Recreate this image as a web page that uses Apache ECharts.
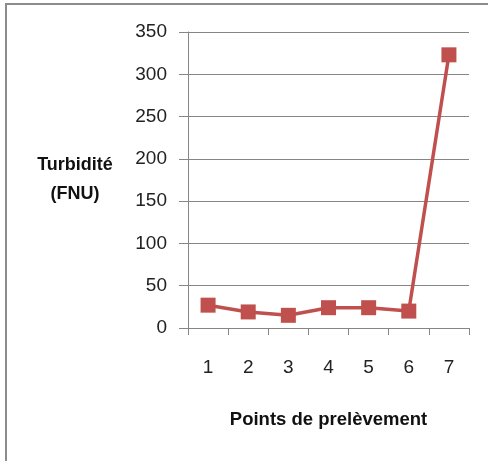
<!DOCTYPE html>
<html>
<head>
<meta charset="utf-8">
<script src="https://cdn.jsdelivr.net/npm/echarts@6/dist/echarts.min.js"></script>
<style>
html,body{margin:0;padding:0;background:#fff;}
#chart{width:488px;height:461px;}
</style>
</head>
<body>
<div id="chart"></div>
<script>
const categories = ['1', '2', '3', '4', '5', '6', '7'];
const turbidity = [27, 19, 15, 24, 24, 20, 323];
const yTicks = { min: 0, max: 350, interval: 50 };
const yName = 'Turbidité\n(FNU)';
const xName = 'Points de prelèvement';

const chart = echarts.init(document.getElementById('chart'), null, { renderer: 'canvas' });
const font = 'Liberation Sans, Arial, sans-serif';
chart.setOption({
  animation: false,
  backgroundColor: '#fff',
  graphic: [{
    type: 'rect',
    shape: { x: 6, y: 4, width: 500, height: 480 },
    style: { fill: 'none', stroke: '#8c8c8c', lineWidth: 2 },
    silent: true
  }],
  grid: { left: 188, right: 19, top: 32, bottom: 133, containLabel: false },
  xAxis: {
    type: 'category',
    data: categories,
    boundaryGap: true,
    name: xName,
    nameLocation: 'middle',
    nameGap: 82,
    nameMoveOverlap: false,
    nameTextStyle: { fontFamily: font, fontSize: 18.5, fontWeight: 'bold', color: '#111' },
    axisLine: { show: true, lineStyle: { color: '#868686', width: 1 } },
    axisTick: { show: true, length: 7, alignWithLabel: false, lineStyle: { color: '#868686' } },
    axisLabel: { margin: 30, fontFamily: font, fontSize: 19, color: '#222' },
    splitLine: { show: false }
  },
  yAxis: {
    type: 'value',
    min: yTicks.min,
    max: yTicks.max,
    interval: yTicks.interval,
    name: yName,
    nameLocation: 'middle',
    nameRotate: 0,
    nameGap: 113,
    nameMoveOverlap: false,
    nameTextStyle: { fontFamily: font, fontSize: 18, fontWeight: 'bold', color: '#111', lineHeight: 29, align: 'center', padding: [11, 0, 0, 0] },
    axisLine: { show: true, lineStyle: { color: '#868686', width: 1 } },
    axisTick: { show: true, length: 9, inside: false, lineStyle: { color: '#868686' } },
    axisLabel: { margin: 21, fontFamily: font, fontSize: 19, color: '#222' },
    splitLine: { show: true, lineStyle: { color: '#868686', width: 1 } }
  },
  series: [{
    type: 'line',
    data: turbidity,
    symbol: 'rect',
    symbolSize: 15,
    lineStyle: { color: '#C0504D', width: 3.5 },
    itemStyle: { color: '#C0504D' }
  }]
});
</script>
</body>
</html>
